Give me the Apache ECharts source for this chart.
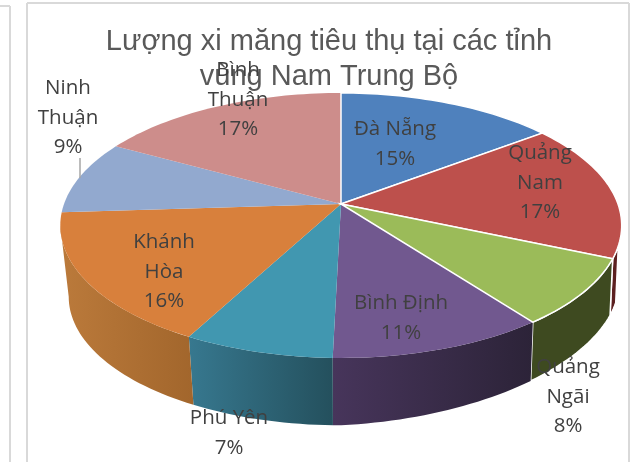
<!DOCTYPE html>
<html><head><meta charset="utf-8">
<style>html,body{margin:0;padding:0;background:#fff}#c{width:632px;height:462px}</style>
<script src="https://cdn.jsdelivr.net/npm/echarts@6/dist/echarts.min.js"></script>
</head><body><div id="c"></div>
<script>
const titleLines = ['Lượng xi măng tiêu thụ tại các tỉnh', 'vùng Nam Trung Bộ'];
const categories = ['Đà Nẵng', 'Quảng\nNam', 'Quảng\nNgãi', 'Bình Định', 'Phú Yên', 'Khánh\nHòa', 'Ninh\nThuận', 'Bình\nThuận'];
const shares = [14.7, 16.8, 8.2, 10.7, 7.4, 16.2, 9.0, 17.0];
const topColors = ['#4f81bd', '#bd504c', '#9bbb59', '#71588f', '#4197b0', '#d8803c', '#92a9cf', '#cd8d8b'];
const wallLeft = ['#3b608d', '#5c2020', '#3e4a20', '#47355b', '#37788f', '#bb7a3b', '#6d7f9b', '#99696a'];
const wallRight = ['#3b608d', '#5c2020', '#3e4a20', '#2c2338', '#24505d', '#a2662c', '#6d7f9b', '#99696a'];
const whiteEdged = [true, true, true, false, false, false, false, false];
const labelCentres = [[395,144],[540,183],[568,397],[401,318],[229,433],[164,272],[68,118],[238,100]];

// projection of the tilted disc
const P = {cx:341, cy:204, rx:277, ry:129, k:0.162, depthY:276, depthScale:0.97};
const total = shares.reduce((a,b)=>a+b,0);
const toRad = d => d*Math.PI/180;
function proj(deg, bottom){
  const u = Math.sin(toRad(deg)), v = -Math.cos(toRad(deg)), s = 1/(1-P.k*v);
  if(!bottom) return [P.cx+P.rx*u*s, P.cy+P.ry*v*s];
  const q = u>0?u:0;
  return [P.cx+P.depthScale*P.rx*u*s+6*q, P.depthY+P.depthScale*P.ry*v*s-14*q*s];
}
function arc(a,b,bottom){
  const pts=[]; const n=Math.max(2,Math.ceil(Math.abs(b-a)/1.5));
  for(let i=0;i<=n;i++) pts.push(proj(a+(b-a)*i/n,bottom));
  return pts;
}
let acc=0;
const spans = shares.map(v=>{const a=acc/total*360; acc+=v; return [a,acc/total*360];});
const VIS_FROM=108, VIS_TO=260.7;
const idx = shares.map((v,i)=>[i,v]);

function renderWall(p){
  const i=p.dataIndex, [a,b]=spans[i];
  const s=Math.max(a,VIS_FROM), e=Math.min(b,VIS_TO);
  if(e<=s) return {type:'group',children:[]};
  const pts=arc(s,e,false).concat(arc(e,s,true));
  return {type:'polygon',shape:{points:pts},style:{
    fill:new echarts.graphic.LinearGradient(0,0,1,0,[{offset:0,color:wallLeft[i]},{offset:1,color:wallRight[i]}]),
    stroke:whiteEdged[i]?'#fff':null,lineWidth:whiteEdged[i]?1.5:0}};
}
function renderTop(p){
  const i=p.dataIndex, [a,b]=spans[i];
  const pts=[[P.cx,P.cy]].concat(arc(a,b,false));
  return {type:'polygon',z2:whiteEdged[i]?2:1,shape:{points:pts},style:{fill:topColors[i],
    stroke:whiteEdged[i]?'#fff':null,lineWidth:whiteEdged[i]?1.5:0}};
}
function renderLabel(p){
  const i=p.dataIndex, c=labelCentres[i];
  return {type:'text',x:c[0],y:c[1],style:{
    text:categories[i]+'\n'+Math.round(shares[i]/total*100)+'%',
    font:'20.5px "Open Sans"',lineHeight:29.5,align:'center',verticalAlign:'middle',fill:'#404040'}};
}
const frame = (shape)=>({type:'line',shape,silent:true,style:{stroke:'#d9d9d9',lineWidth:2}});
const chart = echarts.init(document.getElementById('c'),null,{renderer:'canvas'});
chart.setOption({
  animation:false,
  backgroundColor:'#fff',
  title:{text:titleLines.join('\n'),left:324,top:19,textAlign:'center',
    textStyle:{fontFamily:'Liberation Sans',fontSize:29,fontWeight:'normal',color:'#595959',lineHeight:35}},
  graphic:[
    frame({x1:0,y1:6,x2:10,y2:6}),frame({x1:10,y1:6,x2:10,y2:462}),
    frame({x1:27,y1:3,x2:27,y2:462}),frame({x1:27,y1:3,x2:629,y2:3}),frame({x1:629,y1:3,x2:629,y2:462}),
    {type:'line',z:10,shape:{x1:80,y1:158,x2:80,y2:178},style:{stroke:'#a6a6a6',lineWidth:1.5}}
  ],
  series:[
    {type:'custom',name:'wall',coordinateSystem:'none',z:2,data:idx,renderItem:renderWall,silent:true},
    {type:'custom',name:'top',coordinateSystem:'none',z:3,data:idx,renderItem:renderTop,silent:true},
    {type:'custom',name:'labels',coordinateSystem:'none',z:20,data:idx,renderItem:renderLabel,silent:true}
  ]
});
</script></body></html>
